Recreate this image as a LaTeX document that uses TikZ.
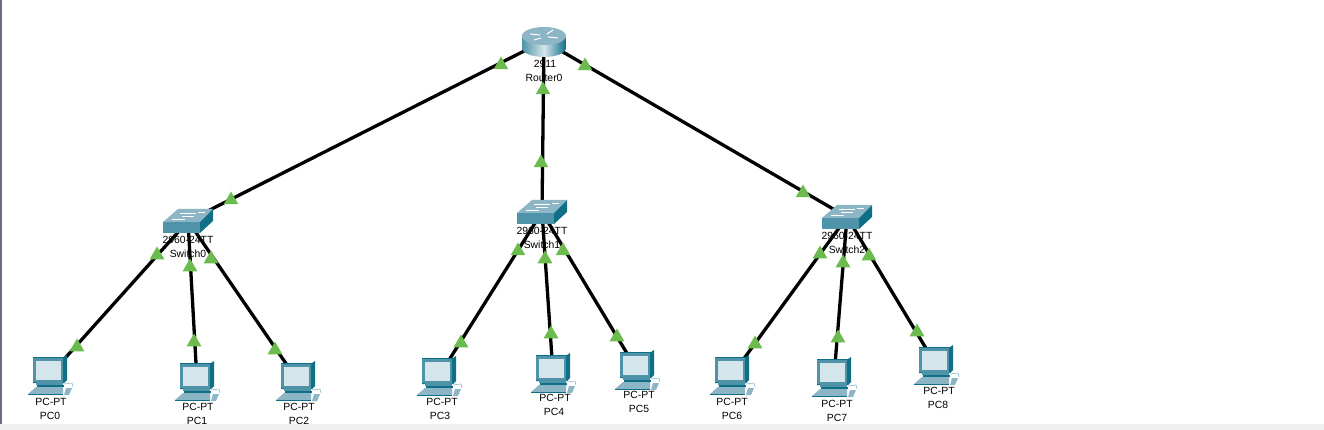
\documentclass[tikz,border=0pt]{standalone}
\usepackage{fontspec}
\setmainfont{Liberation Sans}
\usetikzlibrary{shapes.geometric}
\definecolor{linkgreen}{HTML}{6CBB4E}
\definecolor{teald}{HTML}{0F6F86}
\definecolor{tealm}{HTML}{4F93A8}
\definecolor{teall}{HTML}{8CB5C5}
\definecolor{screen}{HTML}{D5E5EC}
\definecolor{edgegrey}{HTML}{6A6F80}
\tikzset{
  x=1pt,y=-1pt,
  hub/.style={circle,inner sep=0pt,minimum size=1pt},
  link/.style={draw=black,line width=3.3pt},
  tri/.style={regular polygon,regular polygon sides=3,fill=linkgreen,inner sep=0pt,minimum size=17pt,yshift=-2pt},
  lab/.style={font=\fontsize{10.4}{12}\selectfont,inner sep=0pt,text=black,anchor=center},
  pcicon/.pic={
    \fill[teald] (-17,-18) -- (14,-18) -- (17,-20) -- (17,5) -- (14,8) -- (-17,8) -- cycle;
    \fill[tealm] (-17,-17) rectangle (13,7);
    \fill[screen] (-14,-14) rectangle (11,5);
    \fill[tealm] (-14,7) rectangle (13,10);
    \fill[teald] (-13,10) rectangle (14,12);
    \fill[teall] (-14,12) -- (13,12) -- (13,19) -- (-22,19) -- cycle;
    \fill[teald] (-22,19) rectangle (13,20);
    \fill[teall] (16,13) -- (22,13) -- (19,20) -- (14,20) -- cycle;
    \draw[teall,line width=.6pt] (14,9) -- (22,8) -- (23,12);
  },
  switchicon/.pic={
    \fill[teall] (-25,1) -- (-10,-12) -- (25,-12) -- (12,1) -- cycle;
    \fill[tealm] (-25,1) rectangle (12,12);
    \fill[teald] (12,1) -- (25,-12) -- (25,0) -- (12,12) -- cycle;
    \draw[white,line width=.7pt] (-8,-8) -- (8,-8) (10,-9) -- (17,-9) (-16,-2) -- (-3,-2) (-6,-5) -- (6,-5);
  },
  routericon/.pic={
    \shade[left color=tealm,right color=teald,middle color=screen]
      (-22,-5) -- (-22,7) arc[start angle=180,end angle=0,x radius=22,y radius=9] -- (22,-5) -- cycle;
    \fill[teall] (0,-5) ellipse[x radius=22,y radius=9];
    \draw[white,line width=1pt] (-14,-7) -- (-4,-6) (4,-4) -- (14,-3) (-10,-1) -- (-3,-3) (3,-7) -- (9,-11);
  }
}
\begin{document}
\begin{tikzpicture}
\useasboundingbox (0,0) rectangle (1324,430);
\fill[white] (0,0) rectangle (1324,430);
\fill[black!6] (0,424) rectangle (1324,430);
\fill[edgegrey] (0,0) rectangle (1.5,424);
% devices anchors
\node[hub] (r0) at (544,41) {};
\node[hub] (s0) at (188,221) {};
\node[hub] (s1) at (542,212) {};
\node[hub] (s2) at (847,217) {};
\node[hub] (p0) at (50,375) {};
\node[hub] (p1) at (197,381) {};
\node[hub] (p2) at (298,381) {};
\node[hub] (p3) at (439,376) {};
\node[hub] (p4) at (553,373) {};
\node[hub] (p5) at (637,370) {};
\node[hub] (p6) at (732,375) {};
\node[hub] (p7) at (834,377) {};
\node[hub] (p8) at (936,365) {};
% links
\draw[link] (r0) -- (s0);
\draw[link] (r0) -- (s1);
\draw[link] (r0) -- (s2);
\draw[link] (s0) -- (p0);
\draw[link] (s0) -- (p1);
\draw[link] (s0) -- (p2);
\draw[link] (s1) -- (p3);
\draw[link] (s1) -- (p4);
\draw[link] (s1) -- (p5);
\draw[link] (s2) -- (p6);
\draw[link] (s2) -- (p7);
\draw[link] (s2) -- (p8);
% icons
\pic at (r0) {routericon};
\pic at (s0) {switchicon};
\pic at (s1) {switchicon};
\pic at (s2) {switchicon};
\foreach \p in {p0,p1,p2,p3,p4,p5,p6,p7,p8} {\pic at (\p) {pcicon};}
% labels
\node[lab] (lr0a) at (545,64) {2911};
\node[lab] (lr0b) at (544,78) {Router0};
\node[lab] (ls0a) at (188,240) {2960-24TT};
\node[lab] (ls0b) at (188,254) {Switch0};
\node[lab] (ls1a) at (542,231) {2960-24TT};
\node[lab] (ls1b) at (542,245) {Switch1};
\node[lab] (ls2a) at (847,236) {2960-24TT};
\node[lab] (ls2b) at (847,250) {Switch2};
\node[lab] (lp0a) at (51,402) {PC-PT};
\node[lab] (lp0b) at (50,416) {PC0};
\node[lab] (lp1a) at (198,407) {PC-PT};
\node[lab] (lp1b) at (197,421) {PC1};
\node[lab] (lp2a) at (299,407) {PC-PT};
\node[lab] (lp2b) at (299,421) {PC2};
\node[lab] (lp3a) at (442,402) {PC-PT};
\node[lab] (lp3b) at (440,416) {PC3};
\node[lab] (lp4a) at (555,398) {PC-PT};
\node[lab] (lp4b) at (554,412) {PC4};
\node[lab] (lp5a) at (639,395) {PC-PT};
\node[lab] (lp5b) at (639,409) {PC5};
\node[lab] (lp6a) at (732,402) {PC-PT};
\node[lab] (lp6b) at (732,416) {PC6};
\node[lab] (lp7a) at (837,404) {PC-PT};
\node[lab] (lp7b) at (837,418) {PC7};
\node[lab] (lp8a) at (939,391) {PC-PT};
\node[lab] (lp8b) at (938,405) {PC8};
% link lights
\foreach \n/\x/\y in {t1/501/63,t2/231/198,t3/585/64,t4/803/191,t5/543/88,t6/541/161,
  t7/157/253,t8/77/345,t9/190/265,t10/194/340,t11/211/257,t12/275/348,
  t13/518/249,t14/461/341,t15/545/257,t16/551/332,t17/563/249,t18/617/335,
  t19/820/252,t20/755/342,t21/843/261,t22/838/336,t23/869/254,t24/917/330}
  {\node[tri] (\n) at (\x,\y) {};}
\end{tikzpicture}
\end{document}
